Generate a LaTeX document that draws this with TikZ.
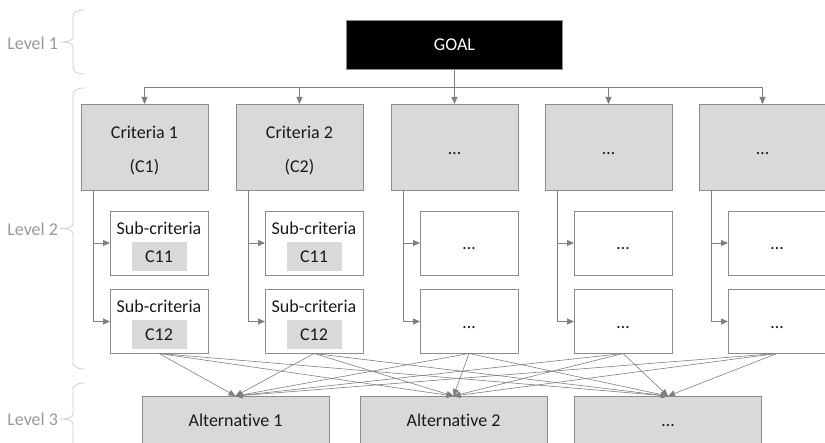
\documentclass[tikz,border=0pt]{standalone}
\usepackage{fontspec}
\setmainfont{Carlito}[Ligatures=NoCommon]
\usetikzlibrary{arrows.meta,calc}
\definecolor{boxgray}{HTML}{D9D9D9}
\definecolor{edgegray}{HTML}{8C8C8C}
\definecolor{linegray}{HTML}{808080}
\definecolor{levelgray}{HTML}{9A9A9A}
\definecolor{bracegray}{HTML}{CFCFCF}
\definecolor{inkgray}{HTML}{1A1A1A}
\begin{document}
\begin{tikzpicture}[x=1pt,y=-1pt,
  every node/.style={font=\fontsize{18}{22}\selectfont, inner sep=0pt, outer sep=0pt, text=inkgray},
  goalbox/.style={draw=edgegray, fill=black, text=white, minimum width=216pt, minimum height=49pt, line width=0.9pt},
  critbox/.style={draw=edgegray, fill=boxgray, minimum width=127pt, minimum height=86pt, line width=0.9pt},
  subbox/.style={draw=edgegray, fill=white, minimum width=98pt, minimum height=64pt, line width=0.9pt},
  tagbox/.style={fill=boxgray, minimum width=55pt, minimum height=29pt},
  altbox/.style={draw=edgegray, fill=boxgray, minimum width=187pt, minimum height=50pt, line width=0.9pt},
  ell/.style={anchor=base},
  link/.style={draw=linegray, line width=0.9pt, -{Triangle[length=7pt,width=6pt]}},
  diag/.style={draw=linegray, line width=0.6pt, -{Triangle[length=7pt,width=6pt]}},
  levellabel/.style={text=levelgray, anchor=east},
  lvlbrace/.style={draw=bracegray, line width=0.8pt},
]
\clip (0,0) rectangle (825,443);
\fill[white] (0,0) rectangle (825,443);

% Level 1: goal
\node[goalbox] (goal) at (454.5,44.5) {GOAL};

% Level 2: criteria boxes
\foreach \i/\x in {1/144.5,2/299.5,3/454.5,4/608.5,5/762.5}
  \node[critbox] (c\i) at (\x,147) {};
\node (n1a) at (c1.center |- 0,132) {Criteria 1};
\node (n1b) at (c1.center |- 0,167) {(C1)};
\node (n2a) at (c2.center |- 0,132) {Criteria 2};
\node (n2b) at (c2.center |- 0,167) {(C2)};
\foreach \i in {3,4,5}
  \node[ell] (e\i) at ($(c\i.center)+(0,8)$) {…};

% Level 2: sub-criteria
\foreach \i/\x in {1/159,2/314} {
  \node[subbox] (s\i1) at (\x,243) {};
  \node (h\i1) at (\x,228) {Sub-criteria};
  \node[tagbox] (t\i1) at (\x,256.5) {C11};
  \node[subbox] (s\i2) at (\x,321.5) {};
  \node (h\i2) at (\x,306.5) {Sub-criteria};
  \node[tagbox] (t\i2) at (\x,335) {C12};
}
\foreach \i/\x in {3/469,4/623,5/777} {
  \node[subbox] (s\i1) at (\x,243) {};
  \node[ell] (e\i1) at ($(s\i1.center)+(0,7)$) {…};
  \node[subbox] (s\i2) at (\x,321.5) {};
  \node[ell] (e\i2) at ($(s\i2.center)+(0,7)$) {…};
}

% Level 3: alternatives
\node[altbox] (a1) at (235.5,421) {};
\node[altbox] (a2) at (453.5,421) {};
\node[altbox] (a3) at (668,421) {};
\node (m1) at (a1.center |- 0,420) {Alternative 1};
\node (m2) at (a2.center |- 0,420) {Alternative 2};
\node[ell] (m3) at ($(a3.center)+(0,5.5)$) {…};

% goal to criteria
\foreach \i in {1,...,5}
  \draw[link] (goal.south) -- ++(0,18) -| (c\i.north);

% criteria to sub-criteria
\foreach \i in {1,...,5} {
  \draw[link] ($(c\i.south west)+(12,0)$) |- (s\i1.west);
  \draw[link] ($(c\i.south west)+(12,0)$) |- (s\i2.west);
}

% sub-criteria to alternatives
\foreach \i in {1,...,5}
  \foreach \a in {1,2,3}
    \draw[diag] (s\i2.south) -- (a\a.north);

% level braces and labels
\node[levellabel] (l1) at (58,43) {Level 1};
\node[levellabel] (l2) at (58,229) {Level 2};
\node[levellabel] (l3) at (58,419) {Level 3};

\draw[lvlbrace] (85,10) .. controls (77,10) and (73,12) .. (73,17) -- (73,36)
  .. controls (73,40) and (70,42) .. (60,42) .. controls (70,42) and (73,44) .. (73,48)
  -- (73,67) .. controls (73,72) and (77,74) .. (85,74);
\draw[lvlbrace] (85,88) .. controls (77,88) and (73,90) .. (73,95) -- (73,222.5)
  .. controls (73,226.5) and (70,228.5) .. (60,228.5) .. controls (70,228.5) and (73,230.5) .. (73,234.5)
  -- (73,362) .. controls (73,367) and (77,369) .. (85,369);
\draw[lvlbrace] (85,383) .. controls (77,383) and (73,385) .. (73,390) -- (73,413)
  .. controls (73,417) and (70,419) .. (60,419) .. controls (70,419) and (73,421) .. (73,425)
  -- (73,448) .. controls (73,453) and (77,455) .. (85,455);
\end{tikzpicture}
\end{document}
